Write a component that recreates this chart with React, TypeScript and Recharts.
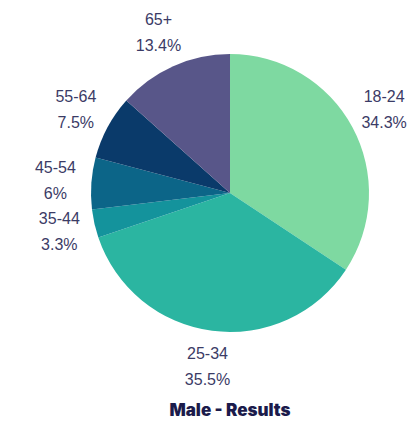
import React from "react";
import { PieChart, Pie, Cell } from "recharts";

const ageGroups = ["18-24", "25-34", "35-44", "45-54", "55-64", "65+"];
const shares = [34.3, 35.5, 3.3, 6, 7.5, 13.4];
const sliceColors = ["#7ED9A1", "#2BB5A1", "#14939C", "#0C6588", "#0A3A6A", "#585689"];

const data = ageGroups.map((name, i) => ({ name, value: shares[i] }));

const RADIAN = Math.PI / 180;

// two-line label placed radially outside each slice
const renderLabel = (props: any) => {
  const { cx, cy, midAngle, outerRadius, index } = props;
  const r = outerRadius + 36;
  const x = cx + r * Math.cos(-midAngle * RADIAN);
  const y = cy + r * Math.sin(-midAngle * RADIAN);
  return (
    <text
      x={x}
      y={y}
      textAnchor="middle"
      fill="#3B3B66"
      fontSize={16}
      fontFamily="Liberation Sans, Arial, sans-serif"
    >
      <tspan x={x} dy={-8}>
        {ageGroups[index]}
      </tspan>
      <tspan x={x} dy={26}>
        {shares[index] + "%"}
      </tspan>
    </text>
  );
};

export default function App() {
  return (
    <div
      style={{
        position: "absolute",
        top: 0,
        left: 0,
        width: 415,
        height: 430,
        background: "#ffffff",
      }}
    >
      <PieChart width={415} height={430} margin={{ top: 0, right: 0, bottom: 0, left: 0 }}>
        <Pie
          data={data}
          dataKey="value"
          nameKey="name"
          cx={230}
          cy={193}
          outerRadius={139}
          startAngle={90}
          endAngle={-270}
          stroke="none"
          labelLine={false}
          label={renderLabel}
          isAnimationActive={false}
        >
          {data.map((d, i) => (
            <Cell key={d.name} fill={sliceColors[i]} />
          ))}
        </Pie>
      </PieChart>
      <div
        style={{
          position: "absolute",
          top: 400,
          left: 0,
          width: 460,
          textAlign: "center",
          fontFamily: "Inter, sans-serif",
          fontWeight: 900,
          fontSize: 17,
          color: "#1B1B4B",
        }}
      >
        Male - Results
      </div>
    </div>
  );
}
